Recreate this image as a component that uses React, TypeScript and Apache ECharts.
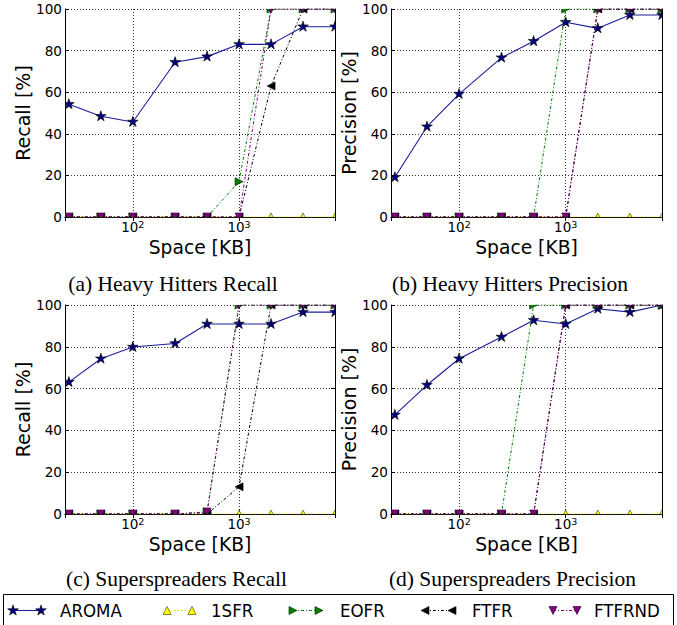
import React, { useEffect, useRef } from 'react';
import * as echarts from 'echarts';

// ---------- data ----------
const spaceKB = [25, 50, 100, 250, 500, 1000, 2000, 4000, 8000];
const methods = ['AROMA', '1SFR', 'EOFR', 'FTFR', 'FTFRND'];
const panelTitles = [
  '(a) Heavy Hitters Recall',
  '(b) Heavy Hitters Precision',
  '(c) Superspreaders Recall',
  '(d) Superspreaders Precision',
];
const yAxisNames = ['Recall [%]', 'Precision [%]', 'Recall [%]', 'Precision [%]'];
const xAxisName = 'Space [KB]';
const xTickExponents = [2, 3];
const yTickInterval = 20;

// (a) Heavy Hitters Recall
const hhRecallAROMA = [54.2, 48.4, 45.7, 74.4, 77.1, 83.0, 83.0, 91.5, 91.5];
const hhRecall1SFR = [0, 0, 0, 0, 0, 0, 0, 0, 0];
const hhRecallEOFR = [0, 0, 0, 0, 0, 17, 100, 100, 100];
const hhRecallFTFR = [0, 0, 0, 0, 0, 0, 63, 100, 100];
const hhRecallFTFRND = [0, 0, 0, 0, 0, 0, 100, 100, 100];

// (b) Heavy Hitters Precision
const hhPrecAROMA = [19.1, 43.4, 59.1, 76.6, 84.5, 93.6, 90.7, 97.1, 97.1];
const hhPrec1SFR = [0, 0, 0, 0, 0, 0, 0, 0, 0];
const hhPrecEOFR = [0, 0, 0, 0, 0, 100, 100, 100, 100];
const hhPrecFTFR = [0, 0, 0, 0, 0, 0, 100, 100, 100];
const hhPrecFTFRND = [0, 0, 0, 0, 0, 0, 100, 100, 100];

// (c) Superspreaders Recall
const ssRecallAROMA = [63.1, 74.3, 79.9, 81.6, 90.9, 90.9, 90.9, 96.6, 96.6];
const ssRecall1SFR = [0, 0, 0, 0, 0, 0, 0, 0, 0];
const ssRecallEOFR = [0, 0, 0, 0, 1, 100, 100, 100, 100];
const ssRecallFTFR = [0, 0, 0, 0, 0, 13, 100, 100, 100];
const ssRecallFTFRND = [0, 0, 0, 0, 1, 100, 100, 100, 100];

// (d) Superspreaders Precision
const ssPrecAROMA = [47.4, 61.7, 74.3, 84.7, 92.7, 90.9, 98.2, 96.6, 100];
const ssPrec1SFR = [0, 0, 0, 0, 0, 0, 0, 0, 0];
const ssPrecEOFR = [0, 0, 0, 0, 100, 100, 100, 100, 100];
const ssPrecFTFR = [0, 0, 0, 0, 0, 100, 100, 100, 100];
const ssPrecFTFRND = [0, 0, 0, 0, 0, 100, 100, 100, 100];

const panels = [
  [hhRecallAROMA, hhRecall1SFR, hhRecallEOFR, hhRecallFTFR, hhRecallFTFRND],
  [hhPrecAROMA, hhPrec1SFR, hhPrecEOFR, hhPrecFTFR, hhPrecFTFRND],
  [ssRecallAROMA, ssRecall1SFR, ssRecallEOFR, ssRecallFTFR, ssRecallFTFRND],
  [ssPrecAROMA, ssPrec1SFR, ssPrecEOFR, ssPrecFTFR, ssPrecFTFRND],
];

// ---------- layout / style ----------
const X_MIN = 23;
const X_MAX = 8000;
const grids = [
  { left: 65, top: 9, width: 270, height: 208 },
  { left: 391, top: 9, width: 271, height: 208 },
  { left: 65, top: 305, width: 270, height: 209 },
  { left: 391, top: 305, width: 271, height: 209 },
];
const captionPos = [
  { x: 173, y: 283.5 },
  { x: 510, y: 283.5 },
  { x: 176.5, y: 578.5 },
  { x: 512.5, y: 578.5 },
];
const SANS = 'DejaVu Sans';
const SANS_COND = "'DejaVu Sans Condensed', 'DejaVu Sans'";
const SERIF = 'Liberation Serif';

type Sty = { line: string; dash: any; width: number; fill: string; stroke: string; shape: string };
const styles: Record<string, Sty> = {
  AROMA: { line: '#1c1c9c', dash: 'solid', width: 1.1, fill: '#000080', stroke: '#000000', shape: 'star' },
  '1SFR': { line: '#dede00', dash: [1.5, 2], width: 1, fill: '#ffff00', stroke: '#3a3a00', shape: 'up' },
  EOFR: { line: '#008000', dash: [3, 2, 1, 2], width: 1, fill: '#008000', stroke: '#002000', shape: 'right' },
  FTFR: { line: '#000000', dash: [3, 2, 1, 2], width: 1, fill: '#000000', stroke: '#000000', shape: 'left' },
  FTFRND: { line: '#800080', dash: [3, 2, 1, 2], width: 1, fill: '#800080', stroke: '#200020', shape: 'down' },
};

function markerPoints(shape: string): number[][] {
  const r = 4;
  if (shape === 'star') {
    const pts: number[][] = [];
    const R = 5.6;
    for (let k = 0; k < 10; k++) {
      const a = -Math.PI / 2 + (k * Math.PI) / 5;
      const rr = k % 2 === 0 ? R : R * 0.382;
      pts.push([rr * Math.cos(a), rr * Math.sin(a)]);
    }
    return pts;
  }
  if (shape === 'up') return [[0, -r], [-r, r], [r, r]];
  if (shape === 'down') return [[0, r], [-r, -r], [r, -r]];
  if (shape === 'right') return [[r, 0], [-r, -r], [-r, r]];
  return [[-r, 0], [r, -r], [r, r]];
}

function xLabelFormatter(v: number) {
  const e = Math.log10(v);
  const r = Math.round(e);
  if (Math.abs(e - r) < 1e-6 && xTickExponents.includes(r)) return `{b|10}{s|${r}}`;
  return '';
}

function buildOption() {
  const xAxis: any[] = [];
  const yAxis: any[] = [];
  const series: any[] = [];
  const dotted = { color: '#333', type: [1, 2], width: 1 };
  grids.forEach((g, i) => {
    xAxis.push({
      type: 'log',
      logBase: 10,
      gridIndex: i,
      min: X_MIN,
      max: X_MAX,
      position: 'bottom',
      name: xAxisName,
      nameLocation: 'middle',
      nameGap: 21,
      nameTextStyle: { fontFamily: SANS, fontSize: 18.7, color: '#000' },
      axisLine: { show: true, lineStyle: { color: '#000', width: 1 } },
      axisTick: { show: true, inside: true, length: 4, lineStyle: { color: '#000' } },
      axisLabel: {
        margin: 2,
        formatter: xLabelFormatter,
        rich: {
          b: { fontFamily: SANS, fontSize: 13.5, color: '#000', lineHeight: 16 },
          s: { fontFamily: SANS, fontSize: 9.5, color: '#000', lineHeight: 4, verticalAlign: 'top' },
        },
      },
      splitLine: { show: true, lineStyle: dotted },
    });
    xAxis.push({
      type: 'log',
      logBase: 10,
      gridIndex: i,
      min: X_MIN,
      max: X_MAX,
      position: 'top',
      axisLine: { show: true, lineStyle: { color: '#000', width: 1 } },
      axisTick: { show: true, inside: true, length: 4, lineStyle: { color: '#000' } },
      axisLabel: { show: false },
      splitLine: { show: false },
    });
    yAxis.push({
      type: 'value',
      gridIndex: i,
      min: 0,
      max: 100,
      interval: yTickInterval,
      position: 'left',
      name: yAxisNames[i],
      nameLocation: 'middle',
      nameGap: 31,
      nameTextStyle: { fontFamily: SANS, fontSize: 19, color: '#000' },
      axisLine: { show: true, lineStyle: { color: '#000', width: 1 } },
      axisTick: { show: true, inside: true, length: 4, lineStyle: { color: '#000' } },
      axisLabel: { fontFamily: SANS, fontSize: 13.6, color: '#000', margin: 3 },
      splitLine: { show: true, lineStyle: dotted },
    });
    yAxis.push({
      type: 'value',
      gridIndex: i,
      min: 0,
      max: 100,
      interval: yTickInterval,
      position: 'right',
      axisLine: { show: true, lineStyle: { color: '#000', width: 1 } },
      axisTick: { show: true, inside: true, length: 4, lineStyle: { color: '#000' } },
      axisLabel: { show: false },
      splitLine: { show: false },
    });

    methods.forEach((m, mi) => {
      const st = styles[m];
      const data = spaceKB.map((x, k) => [x, panels[i][mi][k]]);
      series.push({
        name: m,
        type: 'line',
        xAxisIndex: i * 2,
        yAxisIndex: i * 2,
        data,
        symbol: 'none',
        clip: true,
        z: 3 + mi * 2,
        lineStyle: { color: st.line, width: st.width, type: st.dash },
      });
      const pts = markerPoints(st.shape);
      series.push({
        name: m,
        type: 'custom',
        xAxisIndex: i * 2,
        yAxisIndex: i * 2,
        data,
        clip: true,
        z: 4 + mi * 2,
        renderItem: (params: any, api: any) => {
          const p = api.coord([api.value(0), api.value(1)]);
          return {
            type: 'polygon',
            x: p[0],
            y: p[1],
            shape: { points: pts },
            style: { fill: st.fill, stroke: st.stroke, lineWidth: 0.6 },
          };
        },
      });
    });
  });

  // captions + legend (graphic)
  const graphic: any[] = [];
  panelTitles.forEach((t, i) => {
    graphic.push({
      type: 'text',
      x: captionPos[i].x,
      y: captionPos[i].y,
      style: {
        text: t,
        fontFamily: SERIF,
        fontSize: 21.5,
        fill: '#000',
        align: 'center',
        verticalAlign: 'middle',
      },
    });
  });
  graphic.push({
    type: 'rect',
    shape: { x: 3.5, y: 594.5, width: 670, height: 40 },
    style: { fill: '#fff', stroke: '#000', lineWidth: 1 },
    z: 10,
  });
  const legendItems = [
    { m: 'AROMA', x1: 13, x2: 41, tx: 60 },
    { m: '1SFR', x1: 167, x2: 192, tx: 211 },
    { m: 'EOFR', x1: 293, x2: 319, tx: 340 },
    { m: 'FTFR', x1: 425, x2: 452, tx: 472 },
    { m: 'FTFRND', x1: 553, x2: 577, tx: 594 },
  ];
  const ly = 610.5;
  legendItems.forEach((it) => {
    const st = styles[it.m];
    const pts = markerPoints(st.shape);
    graphic.push({
      type: 'line',
      z: 11,
      shape: { x1: it.x1, y1: ly, x2: it.x2, y2: ly },
      style: { stroke: st.line, lineWidth: st.width, lineDash: st.dash === 'solid' ? null : st.dash },
    });
    [it.x1, it.x2].forEach((cx) => {
      graphic.push({
        type: 'polygon',
        z: 12,
        x: cx,
        y: ly,
        shape: { points: pts },
        style: { fill: st.fill, stroke: st.stroke, lineWidth: 0.6 },
      });
    });
    graphic.push({
      type: 'text',
      z: 12,
      x: it.tx,
      y: ly - 0.5,
      style: {
        text: it.m,
        fontFamily: SANS_COND,
        fontSize: 18.5,
        fill: '#000',
        align: 'left',
        verticalAlign: 'middle',
      },
    });
  });

  return {
    animation: false,
    backgroundColor: '#ffffff',
    grid: grids.map((g) => ({ ...g, containLabel: false, show: false })),
    xAxis,
    yAxis,
    series,
    graphic,
  };
}

export default function App() {
  const ref = useRef<HTMLDivElement>(null);
  useEffect(() => {
    if (!ref.current) return;
    const chart = echarts.init(ref.current, undefined, { renderer: 'svg' });
    chart.setOption(buildOption() as any);
    return () => chart.dispose();
  }, []);
  return (
    <div
      ref={ref}
      style={{ position: 'fixed', left: 0, top: 0, width: 677, height: 625, background: '#fff' }}
    />
  );
}
